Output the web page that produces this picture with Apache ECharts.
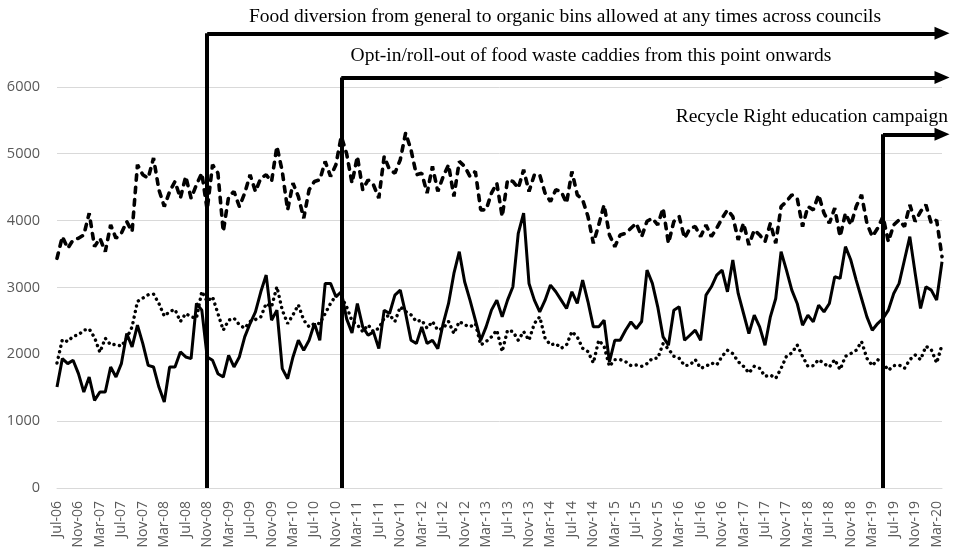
<!DOCTYPE html>
<html>
<head>
<meta charset="utf-8">
<script src="https://cdn.jsdelivr.net/npm/echarts@6/dist/echarts.min.js"></script>
<style>
  html, body { margin: 0; padding: 0; background: #fff; }
  #chart { width: 953px; height: 547px; }
</style>
</head>
<body>
<div id="chart"></div>
<script>
// monthly categories, Jul-06 .. Apr-20
const monthNames = ['Jan', 'Feb', 'Mar', 'Apr', 'May', 'Jun', 'Jul', 'Aug', 'Sep', 'Oct', 'Nov', 'Dec'];
const startMonth = 6, startYear = 6, monthCount = 166;
const categories = [];
for (let i = 0; i < monthCount; i++) {
    const m = (startMonth + i) % 12;
    const y = startYear + Math.floor((startMonth + i) / 12);
    categories.push(monthNames[m] + '-' + String(y).padStart(2, '0'));
}

// dashed line (top)
const dashedValues = [
    3435, 3760, 3585, 3710, 3735, 3785, 4110, 3610, 3735, 3535,
    3935, 3735, 3810, 3985, 3835, 4835, 4685, 4635, 4935, 4460,
    4210, 4435, 4585, 4335, 4660, 4335, 4535, 4710, 4160, 4835,
    4710, 3835, 4360, 4435, 4210, 4410, 4685, 4435, 4635, 4685,
    4585, 5110, 4735, 4160, 4560, 4360, 4035, 4460, 4585, 4610,
    4885, 4660, 4835, 5260, 5000, 4560, 4960, 4460, 4610, 4535,
    4335, 4960, 4760, 4710, 4910, 5310, 5060, 4685, 4710, 4410,
    4810, 4435, 4660, 4835, 4360, 4885, 4810, 4660, 4735, 4160,
    4160, 4410, 4560, 4060, 4610, 4585, 4485, 4760, 4435, 4685,
    4685, 4410, 4285, 4460, 4435, 4260, 4735, 4385, 4310, 4060,
    3660, 3935, 4235, 3785, 3610, 3785, 3810, 3885, 3960, 3760,
    3990, 4035, 3935, 4185, 3660, 3985, 4060, 3735, 3885, 3910,
    3760, 3935, 3760, 3885, 4035, 4160, 4060, 3710, 3960, 3635,
    3860, 3785, 3685, 3960, 3660, 4210, 4285, 4385, 4335, 3910,
    4210, 4160, 4385, 4110, 3960, 4185, 3760, 4110, 3935, 4210,
    4385, 3960, 3760, 3885, 4060, 3685, 3935, 4010, 3910, 4235,
    3985, 4135, 4235, 3960, 4010, 3460
];

// solid line (middle)
const solidValues = [
    1510, 1935, 1860, 1910, 1710, 1435, 1660, 1310, 1435, 1435,
    1810, 1660, 1860, 2310, 2110, 2435, 2160, 1835, 1810, 1510,
    1285, 1810, 1810, 2035, 1960, 1935, 2760, 2660, 1960, 1910,
    1710, 1660, 1985, 1810, 1960, 2260, 2460, 2635, 2935, 3185,
    2510, 2660, 1785, 1635, 1960, 2210, 2060, 2210, 2460, 2210,
    3060, 3060, 2860, 2935, 2530, 2320, 2760, 2410, 2285, 2335,
    2085, 2660, 2610, 2885, 2960, 2610, 2210, 2160, 2410, 2160,
    2210, 2085, 2460, 2760, 3210, 3535, 3085, 2810, 2510, 2210,
    2410, 2660, 2810, 2560, 2810, 3010, 3810, 4110, 3060, 2810,
    2635, 2810, 3035, 2935, 2810, 2685, 2935, 2760, 3110, 2785,
    2410, 2410, 2510, 1885, 2210, 2210, 2360, 2485, 2385, 2490,
    3260, 3060, 2710, 2260, 2135, 2660, 2710, 2210, 2285, 2360,
    2210, 2885, 3010, 3185, 3260, 2935, 3410, 2910, 2610, 2310,
    2585, 2410, 2135, 2560, 2835, 3535, 3260, 2960, 2760, 2435,
    2585, 2485, 2735, 2635, 2760, 3160, 3135, 3610, 3410, 3110,
    2835, 2560, 2360, 2460, 2535, 2660, 2910, 3060, 3410, 3760,
    3210, 2685, 3010, 2960, 2810, 3385
];

// dotted line (bottom)
const dottedValues = [
    1870, 2220, 2190, 2270, 2290, 2360, 2380, 2250, 2030, 2240,
    2140, 2150, 2120, 2240, 2410, 2790, 2840, 2890, 2900, 2760,
    2570, 2640, 2670, 2490, 2610, 2560, 2540, 2940, 2790, 2860,
    2610, 2360, 2510, 2540, 2440, 2390, 2490, 2520, 2560, 2760,
    2710, 3010, 2660, 2460, 2590, 2740, 2510, 2410, 2460, 2460,
    2610, 2760, 2880, 2860, 2710, 2500, 2440, 2340, 2440, 2340,
    2390, 2540, 2590, 2490, 2710, 2640, 2590, 2490, 2510, 2390,
    2490, 2360, 2390, 2490, 2310, 2490, 2440, 2410, 2460, 2140,
    2190, 2260, 2360, 2040, 2360, 2340, 2210, 2340, 2210, 2460,
    2560, 2240, 2140, 2160, 2090, 2140, 2340, 2260, 2090, 2040,
    1870, 2210, 2120, 1820, 1920, 1920, 1890, 1830, 1840, 1820,
    1860, 1940, 1940, 2160, 2080, 1970, 1940, 1830, 1840, 1920,
    1790, 1820, 1870, 1840, 1970, 2060, 2010, 1890, 1820, 1720,
    1820, 1790, 1670, 1690, 1640, 1790, 1970, 2020, 2140, 1970,
    1820, 1830, 1920, 1860, 1810, 1920, 1770, 1970, 2010, 2060,
    2190, 1940, 1830, 1920, 1870, 1760, 1830, 1840, 1790, 1920,
    1990, 1920, 2120, 2070, 1870, 2140
];

// annotation arrows: start month and height of the horizontal part
const eventMonths = ['Nov-08', 'Dec-10', 'May-19'];
const eventLevels = [6800, 6140, 5290];
const eventTexts = [
    'Food diversion from general to organic bins allowed at any times across councils',
    'Opt-in/roll-out of food waste caddies from this point onwards',
    'Recycle Right education campaign'
];

const lastMonth = categories[categories.length - 1];
const arrowLines = [];
eventMonths.forEach((m, i) => {
    arrowLines.push([{ coord: [m, 0] }, { coord: [m, eventLevels[i]] }]);
    arrowLines.push([{ coord: [m, eventLevels[i]] }, { coord: [lastMonth, eventLevels[i]], symbol: 'triangle' }]);
});

const chart = echarts.init(document.getElementById('chart'));
const axisFont = '"Open Sans", "Noto Sans", sans-serif';
const serifFont = '19.5px "Liberation Serif", "DejaVu Serif", serif';

const option = {
    animation: false,
    grid: { left: 57, right: 11, top: 20, bottom: 59, outerBoundsMode: 'none', containLabel: false },
    xAxis: {
        type: 'category',
        data: categories,
        boundaryGap: false,
        axisLine: { lineStyle: { color: '#d9d9d9', width: 1 } },
        axisTick: { show: false },
        axisLabel: { interval: 3, rotate: 90, color: '#595959', fontSize: 14, fontFamily: axisFont, margin: 13 },
        splitLine: { show: false }
    },
    yAxis: {
        type: 'value',
        min: 0,
        max: 7000,
        interval: 1000,
        axisLine: { show: false },
        axisTick: { show: false },
        axisLabel: {
            color: '#595959', fontSize: 14.5, fontFamily: axisFont, margin: 17, showMaxLabel: false,
            formatter: v => String(v)
        },
        splitLine: { lineStyle: { color: '#d9d9d9', width: 1 }, showMaxLine: false }
    },
    graphic: [
        { type: 'text', x: 565, y: 17, style: { text: eventTexts[0], font: serifFont, fill: '#000', textAlign: 'center', textVerticalAlign: 'middle' } },
        { type: 'text', x: 591, y: 56, style: { text: eventTexts[1], font: serifFont, fill: '#000', textAlign: 'center', textVerticalAlign: 'middle' } },
        { type: 'text', x: 948, y: 117, style: { text: eventTexts[2], font: serifFont, fill: '#000', textAlign: 'right', textVerticalAlign: 'middle' } }
    ],
    series: [
        {
            name: 'Series A',
            type: 'line',
            data: dashedValues,
            showSymbol: false,
            lineStyle: { color: '#000', width: 3.6, type: [5.5, 7], cap: 'round' }
        },
        {
            name: 'Series B',
            type: 'line',
            data: solidValues,
            showSymbol: false,
            lineStyle: { color: '#000', width: 3 },
            markLine: {
                silent: true,
                animation: false,
                symbol: ['none', 'none'],
                symbolSize: [13, 15],
                label: { show: false },
                lineStyle: { color: '#000', width: 4, type: 'solid' },
                emphasis: { disabled: true },
                data: arrowLines
            }
        },
        {
            name: 'Series C',
            type: 'line',
            data: dottedValues,
            showSymbol: false,
            lineStyle: { color: '#000', width: 3.4, type: [0.1, 5.6], cap: 'round' }
        }
    ]
};

chart.setOption(option);
</script>
</body>
</html>
